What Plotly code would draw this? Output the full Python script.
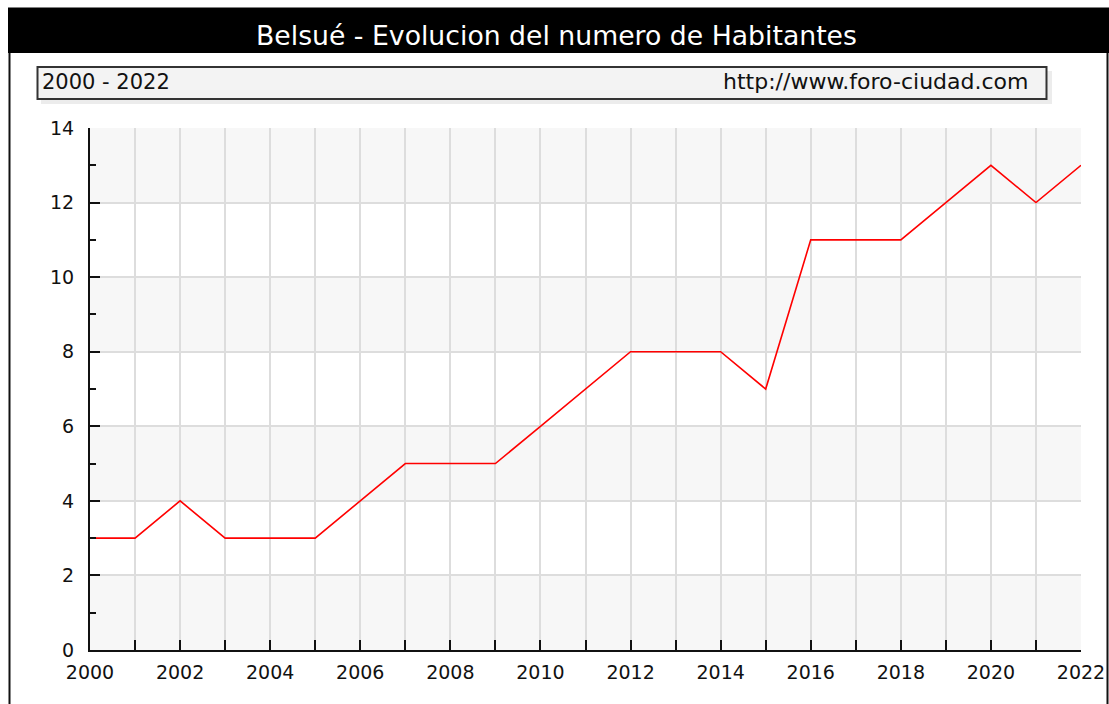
import plotly.graph_objects as go

years = list(range(2000, 2023))
habitantes = [3, 3, 4, 3, 3, 3, 4, 5, 5, 5, 6, 7, 8, 8, 8, 7, 11, 11, 11, 12, 13, 12, 13]
title_text = "Belsué - Evolucion del numero de Habitantes"
range_text = "2000 - 2022"
url_text = "http://www.foro-ciudad.com"
y_ticks = [0, 2, 4, 6, 8, 10, 12, 14]
band_ranges = [(0, 2), (4, 6), (8, 10), (12, 14)]

W, H = 1109, 704
L, R, T, B = 90, 1081, 128, 650
FONT = "DejaVu Sans"

def px(x):
    return (x - L) / (R - L)

def py(y):
    return (B - y) / (B - T)

fig = go.Figure()
fig.add_trace(go.Scatter(x=years, y=habitantes, mode="lines",
                         line=dict(color="#ff0000", width=1.6),
                         hoverinfo="x+y", showlegend=False))

shapes = []
for y0, y1 in band_ranges:
    shapes.append(dict(type="rect", xref="x", yref="y", x0=years[0], x1=years[-1],
                       y0=y0, y1=y1, fillcolor="#f7f7f7", line=dict(width=0), layer="below"))
# title bar
shapes.append(dict(type="rect", xref="paper", yref="paper", x0=px(8), x1=px(W),
                   y0=py(53), y1=py(7.5), fillcolor="#000000", line=dict(width=0), layer="above"))
# frame sides
shapes.append(dict(type="line", xref="paper", yref="paper", x0=px(9.5), x1=px(9.5),
                   y0=py(53), y1=py(H), line=dict(color="#111111", width=2)))
shapes.append(dict(type="line", xref="paper", yref="paper", x0=px(1107.5), x1=px(1107.5),
                   y0=py(53), y1=py(H), line=dict(color="#111111", width=2)))
# subtitle box shadow
shapes.append(dict(type="rect", xref="paper", yref="paper", x0=px(41), x1=px(1052),
                   y0=py(104), y1=py(71), fillcolor="#ececec", line=dict(width=0)))
# subtitle box
shapes.append(dict(type="rect", xref="paper", yref="paper", x0=px(37.5), x1=px(1046.5),
                   y0=py(99), y1=py(67), fillcolor="#f3f3f3", line=dict(color="#333333", width=2)))

fig.update_layout(shapes=shapes)

fig.add_annotation(text=title_text, xref="paper", yref="paper", x=px(556.5), y=py(35),
                   xanchor="center", yanchor="middle", showarrow=False,
                   font=dict(family=FONT, size=26.7, color="#ffffff"))
fig.add_annotation(text=range_text, xref="paper", yref="paper", x=px(40), y=py(82),
                   xanchor="left", yanchor="middle", showarrow=False,
                   font=dict(family=FONT, size=21, color="#111111"))
fig.add_annotation(text=url_text, xref="paper", yref="paper", x=px(1030), y=py(82),
                   xanchor="right", yanchor="middle", showarrow=False,
                   font=dict(family=FONT, size=22, color="#111111"))

fig.update_xaxes(range=[years[0], years[-1]], tickmode="array", tickvals=years,
                 ticktext=[str(y) if y % 2 == 0 else "" for y in years],
                 ticks="inside", ticklen=10, tickwidth=2, tickcolor="#111111",
                 showline=True, linecolor="#111111", linewidth=2,
                 showgrid=True, gridcolor="#dddddd", gridwidth=2, zeroline=False,
                 tickfont=dict(family=FONT, size=19, color="#111111"),
                 ticklabelstandoff=4, fixedrange=True, automargin=False)
fig.update_yaxes(range=[0, 14], tickmode="array", tickvals=y_ticks,
                 ticks="inside", ticklen=10, tickwidth=2, tickcolor="#111111",
                 minor=dict(ticks="inside", ticklen=6, tickwidth=2, tickcolor="#111111",
                            dtick=1, showgrid=False),
                 showline=True, linecolor="#111111", linewidth=2,
                 showgrid=True, gridcolor="#dddddd", gridwidth=2, zeroline=False,
                 tickfont=dict(family=FONT, size=19, color="#111111"),
                 ticklabelstandoff=10, fixedrange=True, automargin=False)

fig.update_layout(width=W, height=H, margin=dict(l=L, r=W - R, t=T, b=H - B, pad=0, autoexpand=False),
                  paper_bgcolor="#ffffff", plot_bgcolor="#ffffff",
                  font=dict(family=FONT), showlegend=False)

# remove the default page margin so figure pixels map 1:1 onto the window
post = ("document.body.style.margin='0';document.body.style.overflow='hidden';"
        "document.documentElement.style.overflow='hidden';")
fig.write_html("out.html", config={"displayModeBar": False}, post_script=post)
